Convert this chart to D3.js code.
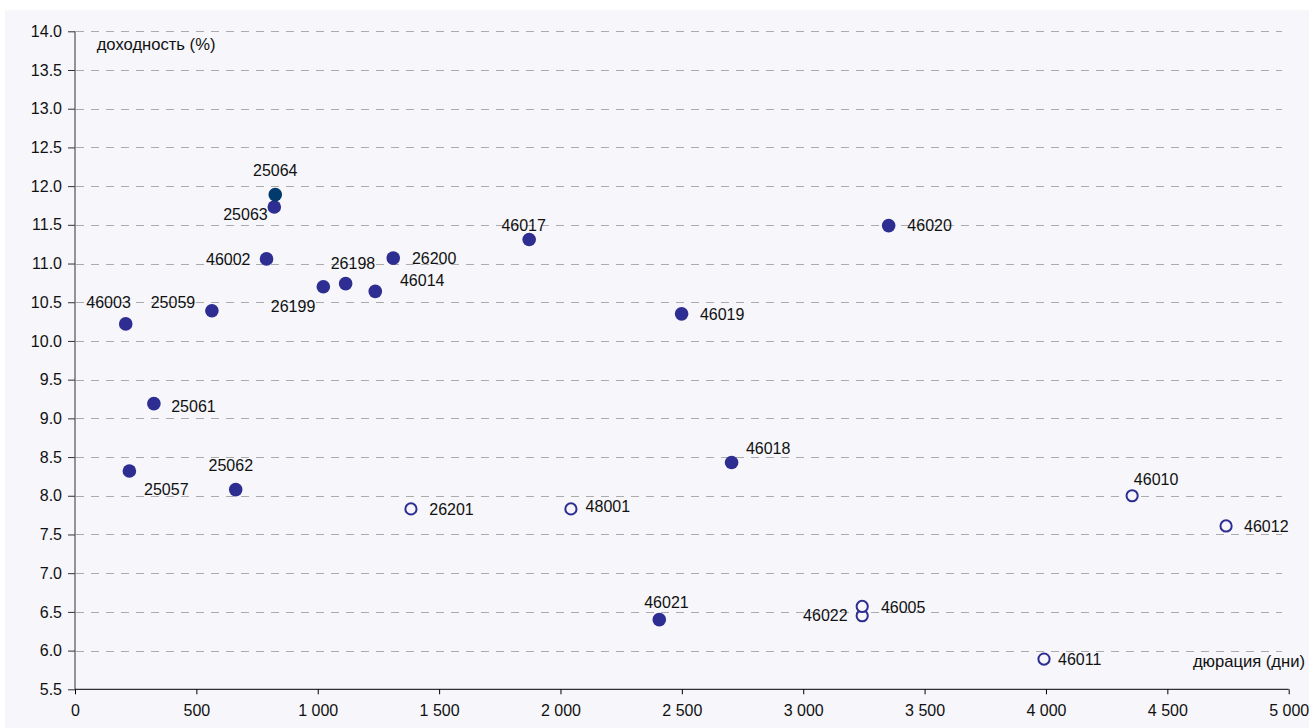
<!DOCTYPE html>
<html><head><meta charset="utf-8">
<script src="https://cdn.jsdelivr.net/npm/d3@7"></script>
<style>
html,body{margin:0;padding:0;background:#fff;}
svg{display:block;font-family:"Liberation Sans",Arial,sans-serif;}
</style></head>
<body>
<svg id="chart" width="1309" height="728"></svg>
<script>
// ---- data ----
const filledNames    = ["25063","46002","46003","25059","26199","26198","46014","26200","46017","46020","46019","25061","25057","25062","46018","46021"];
const filledDuration = [821, 789, 209, 564, 1023, 1115, 1237, 1311, 1871, 3352, 2499, 325, 224, 662, 2705, 2407];
const filledYield    = [11.73, 11.06, 10.22, 10.39, 10.70, 10.74, 10.64, 11.07, 11.31, 11.49, 10.35, 9.19, 8.32, 8.08, 8.43, 6.40];

const highlightNames    = ["25064"];
const highlightDuration = [825];
const highlightYield    = [11.89];

const openNames    = ["26201","48001","46022","46005","46010","46012","46011"];
const openDuration = [1384, 2043, 3243, 3243, 4355, 4742, 3992];
const openYield    = [7.83, 7.83, 6.45, 6.57, 8.00, 7.61, 5.89];

const xTicks = [0, 500, 1000, 1500, 2000, 2500, 3000, 3500, 4000, 4500, 5000];
const yTicks = [5.5, 6.0, 6.5, 7.0, 7.5, 8.0, 8.5, 9.0, 9.5, 10.0, 10.5, 11.0, 11.5, 12.0, 12.5, 13.0, 13.5, 14.0];

const xTitle = "дюрация (дни)";
const yTitle = "доходность (%)";

// ---- label placement (layout only) ----
const labelPlace = {
  "46003":["middle",-17.2,-21.7], "25059":["end",-16.7,-8.7], "46002":["end",-16,0],
  "25064":["middle",0,-24.6], "25063":["end",-6.6,7.6], "26198":["middle",7.3,-20.7],
  "26199":["end",-8,20], "46014":["start",24.7,-10.7], "26200":["start",18.7,0],
  "46017":["middle",-5.5,-14.6], "46019":["start",18.3,0], "46020":["start",18.7,0],
  "25061":["start",17.3,2.7], "25057":["start",14.7,18.7], "25062":["middle",-4.9,-24.4],
  "26201":["start",18.3,0], "48001":["start",14.7,-3], "46018":["start",14.3,-14],
  "46021":["middle",7.2,-17.3], "46022":["end",-14.6,0], "46005":["start",18.7,1],
  "46010":["start",1.7,-16.7], "46012":["start",18,0], "46011":["start",14,0]
};

// ---- layout ----
const svg = d3.select("#chart");
const L = 75, R = 1288.7, T = 31.3, B = 689.3;
const x = d3.scaleLinear().domain([0, 5000]).range([L, R]);
const y = d3.scaleLinear().domain([5.5, 14]).range([B, T]);
const fmtX = v => d3.format(",")(v).replace(/,/g, " ");

svg.append("rect").attr("x", 5).attr("y", 10).attr("width", 1304).attr("height", 718).attr("fill", "#f6f6fb");

// gridlines
svg.append("g").selectAll("line").data(yTicks.filter(v => v > 5.5)).join("line")
  .attr("x1", L + 1).attr("x2", 1282)
  .attr("y1", d => Math.round(y(d)) + 0.5).attr("y2", d => Math.round(y(d)) + 0.5)
  .attr("stroke", "#ababab").attr("stroke-width", 1.2).attr("stroke-dasharray", "8,7");

// y axis
const yAxis = svg.append("g").attr("transform", `translate(${L},0)`)
  .call(d3.axisLeft(y).tickValues(yTicks).tickFormat(d3.format(".1f")).tickSize(7).tickPadding(6));
yAxis.select(".domain").attr("stroke", "#333").attr("d", `M0,${T}V${B}`);
yAxis.selectAll(".tick line").attr("stroke", "#333");
yAxis.selectAll("text").attr("font-size", 16).attr("fill", "#111").attr("font-family", "Liberation Sans, Arial, sans-serif");

// x axis
const xAxis = svg.append("g").attr("transform", `translate(0,${B})`)
  .call(d3.axisBottom(x).tickValues(xTicks).tickFormat(fmtX).tickSize(5).tickPadding(10));
xAxis.select(".domain").attr("stroke", "#000").attr("d", `M${L},0H${R}`);
xAxis.selectAll(".tick line").attr("stroke", "#000");
xAxis.selectAll("text").attr("font-size", 16).attr("fill", "#111").attr("font-family", "Liberation Sans, Arial, sans-serif");

// titles
svg.append("text").attr("x", 96.7).attr("y", 43.7 + 5.9).attr("font-size", 16.6).attr("fill", "#111").text(yTitle);
svg.append("text").attr("x", 1305).attr("y", 660.7 + 5.9).attr("text-anchor", "end").attr("font-size", 16.6).attr("fill", "#111").text(xTitle);

// points
const mk = (names, dur, yl) => names.map((n, i) => ({name: n, x: dur[i], y: yl[i]}));
const filled = mk(filledNames, filledDuration, filledYield);
const hi = mk(highlightNames, highlightDuration, highlightYield);
const open = mk(openNames, openDuration, openYield);

svg.append("g").selectAll("circle").data(filled).join("circle")
  .attr("cx", d => x(d.x)).attr("cy", d => y(d.y)).attr("r", 6.8).attr("fill", "#2d2d92");
svg.append("g").selectAll("circle").data(hi).join("circle")
  .attr("cx", d => x(d.x)).attr("cy", d => y(d.y)).attr("r", 6.8).attr("fill", "#033a6d");
svg.append("g").selectAll("circle").data(open).join("circle")
  .attr("cx", d => x(d.x)).attr("cy", d => y(d.y)).attr("r", 5.6)
  .attr("fill", "#f6f6fb").attr("stroke", "#2d2d92").attr("stroke-width", 2);

// labels
const all = filled.concat(hi, open);
svg.append("g").selectAll("text").data(all).join("text")
  .attr("x", d => x(d.x) + labelPlace[d.name][1])
  .attr("y", d => y(d.y) + labelPlace[d.name][2] + 5.7)
  .attr("text-anchor", d => labelPlace[d.name][0])
  .attr("font-size", 16).attr("fill", "#111")
  .text(d => d.name);
</script>
</body></html>
